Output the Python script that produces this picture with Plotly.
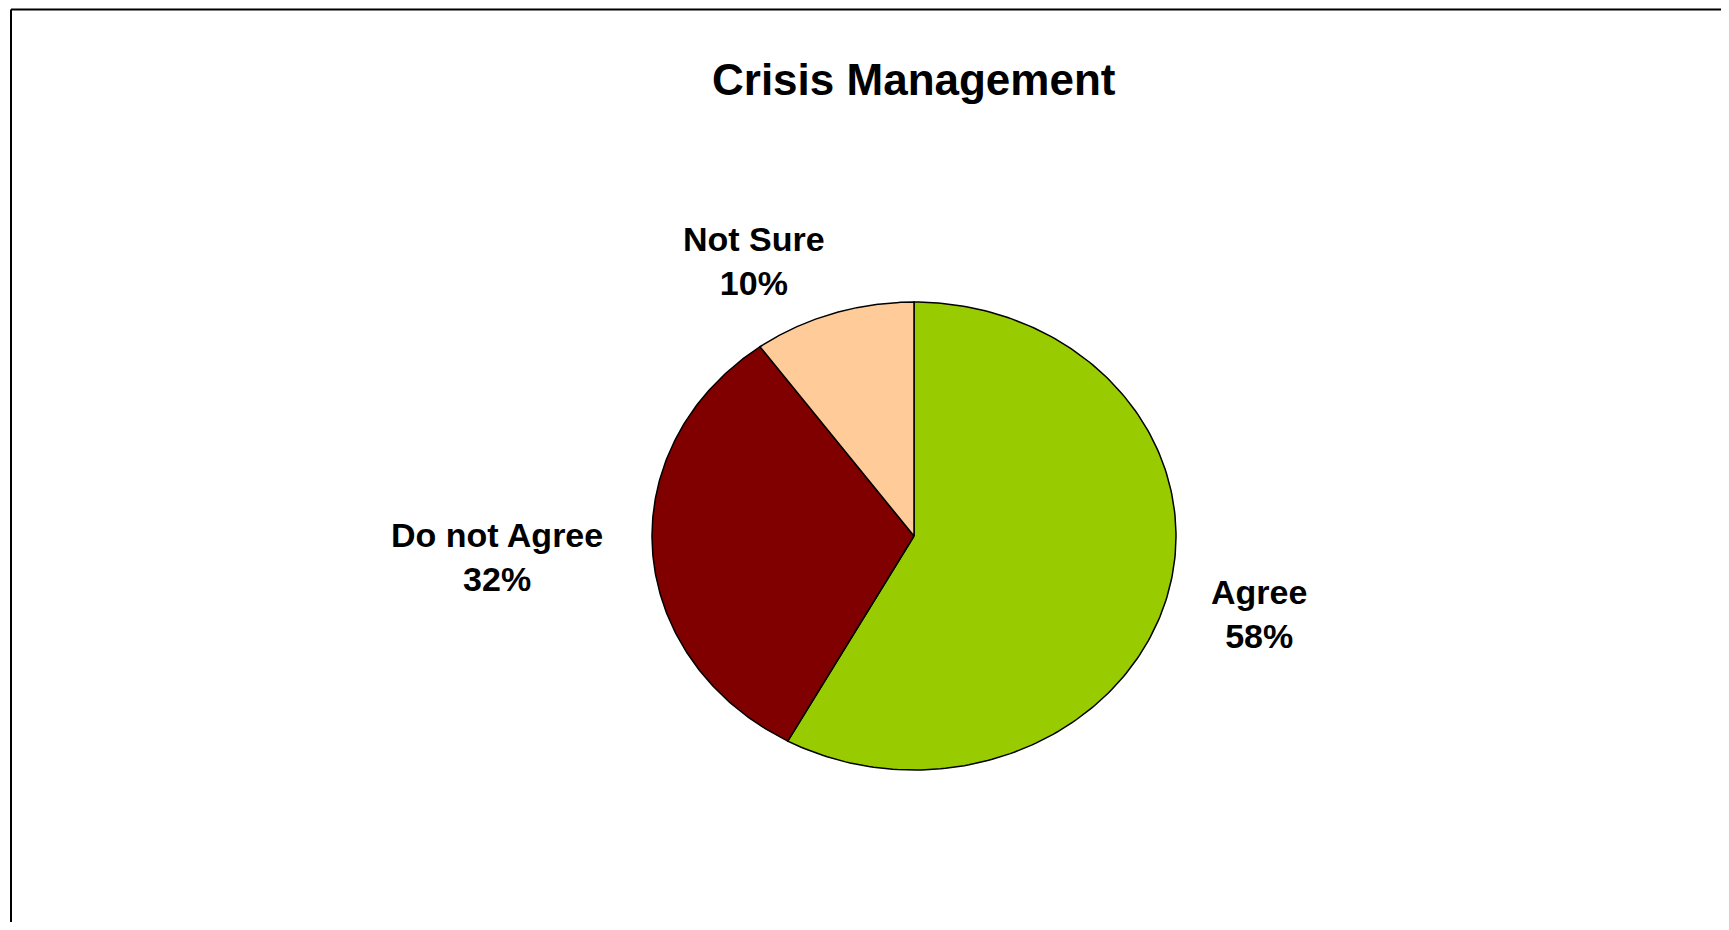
import numpy as np
import plotly.graph_objects as go

# ---- data ----
categories = ["Agree", "Do not Agree", "Not Sure"]
values = [58, 32, 10]
colors = ["#99CC00", "#800000", "#FFCC99"]
title = "Crisis Management"

# ---- layout parameters (page pixel space) ----
W, H = 1729, 930
PAD = 8  # default body margin of the html page
cx, cy = 914, 536
rx, ry = 262, 234
label_pos = [(1259, 614), (497, 557), (754, 261)]
FONT = "Liberation Sans, Arial, sans-serif"

fig = go.Figure()
total = float(sum(values))
start = 0.0
for cat, val, col in zip(categories, values, colors):
    frac = val / total
    t = np.linspace(start, start + frac, 200) * 2 * np.pi
    xs = np.concatenate([[cx], cx + rx * np.sin(t), [cx]])
    ys = np.concatenate([[cy], cy - ry * np.cos(t), [cy]])
    fig.add_trace(go.Scatter(
        x=xs, y=ys, mode="lines", fill="toself", fillcolor=col,
        line=dict(color="black", width=1.5), name=cat,
        hoverinfo="text", text=f"{cat}: {val}%", showlegend=False,
    ))
    start += frac

for (lx, ly), cat, val in zip(label_pos, categories, values):
    fig.add_annotation(
        x=lx, y=ly, xref="x", yref="y", showarrow=False,
        text=f"<b>{cat}</b><br><b>{val}%</b>",
        font=dict(family=FONT, size=34, color="black"),
        xanchor="center", yanchor="middle", align="center",
    )

fig.add_annotation(
    x=cx, y=79, xref="x", yref="y", showarrow=False,
    text=f"<b>{title}</b>",
    font=dict(family=FONT, size=44, color="black"),
    xanchor="center", yanchor="middle",
)

# frame (left and top edges visible)
fig.add_shape(type="line", xref="x", yref="y", x0=11, y0=9.5, x1=11, y1=H - PAD,
              line=dict(color="black", width=2))
fig.add_shape(type="line", xref="x", yref="y", x0=11, y0=9.5, x1=W - PAD, y1=9.5,
              line=dict(color="black", width=2))

fig.update_layout(
    width=W - 2 * PAD, height=H - 2 * PAD,
    margin=dict(l=0, r=0, t=0, b=0),
    paper_bgcolor="white", plot_bgcolor="white",
    xaxis=dict(range=[PAD, W - PAD], visible=False, fixedrange=True),
    yaxis=dict(range=[H - PAD, PAD], visible=False, fixedrange=True),
    showlegend=False,
)

fig.write_html("out.html")
